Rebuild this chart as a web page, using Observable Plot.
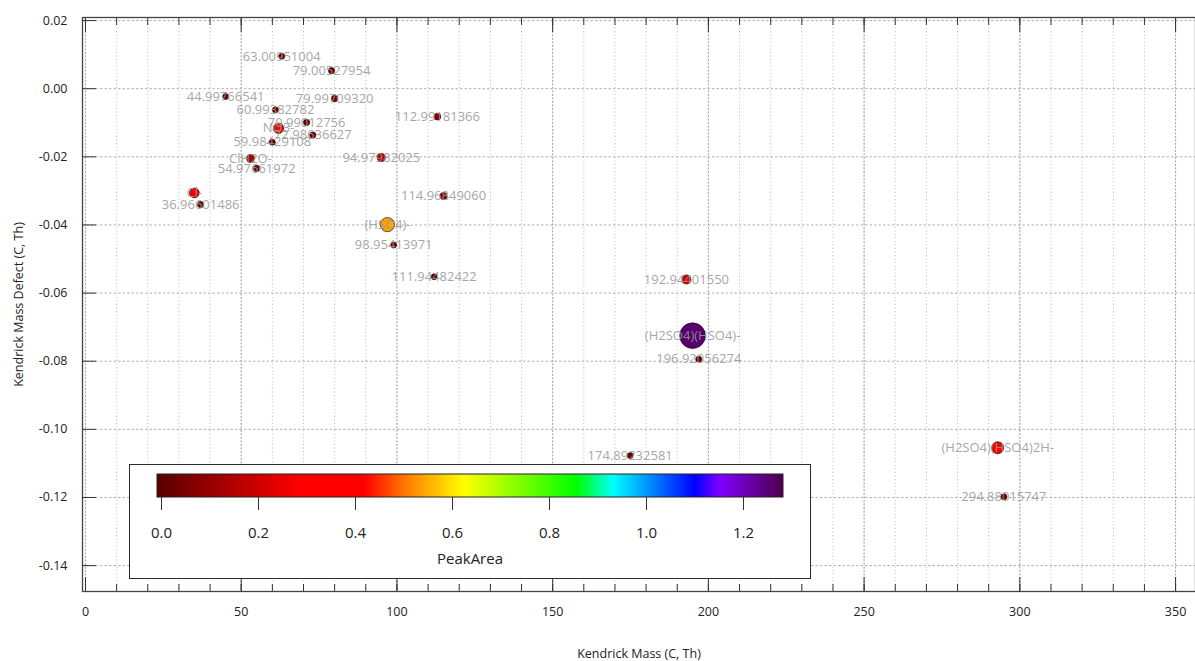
<!DOCTYPE html>
<html><head><meta charset="utf-8">
<script src="https://cdn.jsdelivr.net/npm/d3@7"></script>
<script src="https://cdn.jsdelivr.net/npm/@observablehq/plot@0.6"></script>
<style>
html,body{margin:0;padding:0;background:#fff;}
#wrap{position:relative;width:1195px;height:661px;overflow:hidden;}
#cbar{position:absolute;left:129px;top:464px;width:680px;height:113px;border:1.5px solid #2a2a2a;background:#fff;}
#cbar svg{display:block;}
</style></head><body><div id="wrap"><div id="chart"></div><div id="cbar"></div></div>
<script>
// ---- data ----
const labels = ["63.00951004","79.00527954","44.99766541","60.99382782","79.99709320","70.99012756","NO3-","72.98636627","59.98429108","ClH2O-","54.97661972","94.97982025","112.99181366","114.96849060","Cl-","36.96601486","(HSO4)-","98.95413971","111.94482422","192.94401550","(H2SO4)(HSO4)-","196.92056274","174.89232581","(H2SO4)(HSO4)2H-","294.88015747"];
const kendrickMass = [63.0095,79.0053,44.9977,60.9938,79.9971,70.9901,61.9884,72.9864,59.9843,52.9795,54.9766,94.9798,112.9918,114.9685,34.9694,36.9660,96.9601,98.9541,111.9448,192.9440,194.9275,196.9206,174.8923,292.8946,294.8802];
const massDefect = [0.0095,0.0053,-0.0023,-0.0062,-0.0029,-0.0099,-0.0116,-0.0136,-0.0157,-0.0205,-0.0234,-0.0202,-0.0082,-0.0315,-0.0306,-0.0340,-0.0399,-0.0459,-0.0552,-0.0560,-0.0725,-0.0794,-0.1077,-0.1054,-0.1198];
const peakArea = [0.03,0.04,0.02,0.03,0.06,0.04,0.30,0.04,0.03,0.14,0.05,0.16,0.08,0.10,0.26,0.04,0.54,0.02,0.02,0.22,1.26,0.03,0.02,0.40,0.03];

const xTicksMajor = [0,50,100,150,200,250,300,350];
const xTicksMinor = [0,10,20,30,40,50,60,70,80,90,100,110,120,130,140,150,160,170,180,190,200,210,220,230,240,250,260,270,280,290,300,310,320,330,340,350];
const yTicks = [-0.14,-0.12,-0.10,-0.08,-0.06,-0.04,-0.02,0.00,0.02];
const colorbarTicks = [0.0,0.2,0.4,0.6,0.8,1.0,1.2];
const xDomain = [-0.96, 356.4];
const yDomain = [-0.1476, 0.0209];
const areaDomain = [-0.008, 1.282];

// colormap (style)
const rampStops = [0, 0.227, 0.33, 0.40, 0.49, 0.67, 0.73, 0.86, 0.90, 1];
const rampColors = ["#5a0000","#ff0000","#ff0000","#ff8000","#ffff00","#00ff00","#00ffff","#0000ff","#8000ff","#500050"];
function rampInterp(t) {
  t = Math.max(0, Math.min(1, t));
  let i = 0;
  while (i < rampStops.length - 2 && t > rampStops[i + 1]) i++;
  const u = (t - rampStops[i]) / (rampStops[i + 1] - rampStops[i]);
  return d3.interpolateRgb(rampColors[i], rampColors[i + 1])(u);
}

const data = labels.map((label, i) => ({label, mass: kendrickMass[i], kmd: massDefect[i], area: peakArea[i]}));
const font = "'Open Sans', 'Noto Sans', sans-serif";

const chart = Plot.plot({
  width: 1195, height: 661,
  marginLeft: 82, marginRight: 0, marginTop: 17, marginBottom: 70,
  style: {fontFamily: font, fontSize: "12.5px", color: "#222", background: "#fff", overflow: "visible"},
  x: {domain: xDomain},
  y: {domain: yDomain},
  r: {type: "linear", domain: [0, 1.28], range: [2.8, 13]},
  color: {type: "linear", domain: areaDomain, interpolate: rampInterp},
  marks: [
    Plot.gridX(xTicksMinor, {stroke: "#bdbdbd", strokeOpacity: 1, strokeDasharray: "1,2.5"}),
    Plot.gridX(xTicksMajor, {stroke: "#a8a8a8", strokeOpacity: 1, strokeDasharray: "2,1.5"}),
    Plot.gridY(yTicks, {stroke: "#b0b0b0", strokeOpacity: 1, strokeDasharray: "2.5,2"}),
    Plot.frame({stroke: "#444", strokeWidth: 1.3}),
    Plot.axisX(xTicksMinor, {anchor: "bottom", tickSize: -7, tickFormat: () => "", label: null, stroke: "#333"}),
    Plot.axisX(xTicksMajor, {anchor: "bottom", tickSize: -14, tickPadding: 30, tickFormat: d => String(d), label: "Kendrick Mass (C, Th)", labelAnchor: "center", labelArrow: "none", labelOffset: 66, stroke: "#333", fill: "#222"}),
    Plot.axisX(xTicksMinor, {anchor: "top", tickSize: -7, tickFormat: () => "", label: null, stroke: "#333"}),
    Plot.axisX(xTicksMajor, {anchor: "top", tickSize: -14, tickFormat: () => "", label: null, stroke: "#333"}),
    Plot.axisY(yTicks, {anchor: "left", tickSize: -14, tickPadding: 29, tickFormat: d => d.toFixed(2), label: "Kendrick Mass Defect (C, Th)", labelAnchor: "center", labelArrow: "none", labelOffset: 68, stroke: "#333", fill: "#222"}),
    Plot.dot(data, {x: "mass", y: "kmd", r: "area", fill: "area", stroke: "#2a0a0a", strokeOpacity: 0.85, strokeWidth: 0.8}),
    Plot.text(data, {x: "mass", y: "kmd", text: "label", fill: "#9a9a9a", fillOpacity: 0.9, fontSize: 13})
  ]
});
document.getElementById("chart").appendChild(chart);

// colour bar legend
const leg = Plot.legend({
  color: {type: "linear", domain: areaDomain, interpolate: rampInterp},
  width: 680, height: 113, marginLeft: 27, marginRight: 27, marginTop: 9, marginBottom: 81,
  tickSize: 13, ticks: colorbarTicks, tickFormat: d => d.toFixed(1), label: null
});
const s = d3.select(leg);
s.attr("font-family", font).attr("font-size", 15);
s.selectAll(".tick line").attr("y1", 0).attr("y2", 13).attr("stroke", "#333");
s.selectAll(".tick text").attr("y", 30).attr("fill", "#222").attr("font-size", 15);
s.append("rect").attr("x", 27).attr("y", 9).attr("width", 626).attr("height", 23)
  .attr("fill", "none").attr("stroke", "#222").attr("stroke-width", 1);
s.append("text").attr("x", 340).attr("y", 95).attr("text-anchor", "middle").attr("dominant-baseline", "middle")
  .attr("fill", "#222").attr("font-size", 15).text("PeakArea");
document.getElementById("cbar").appendChild(leg);
</script>
</body></html>
